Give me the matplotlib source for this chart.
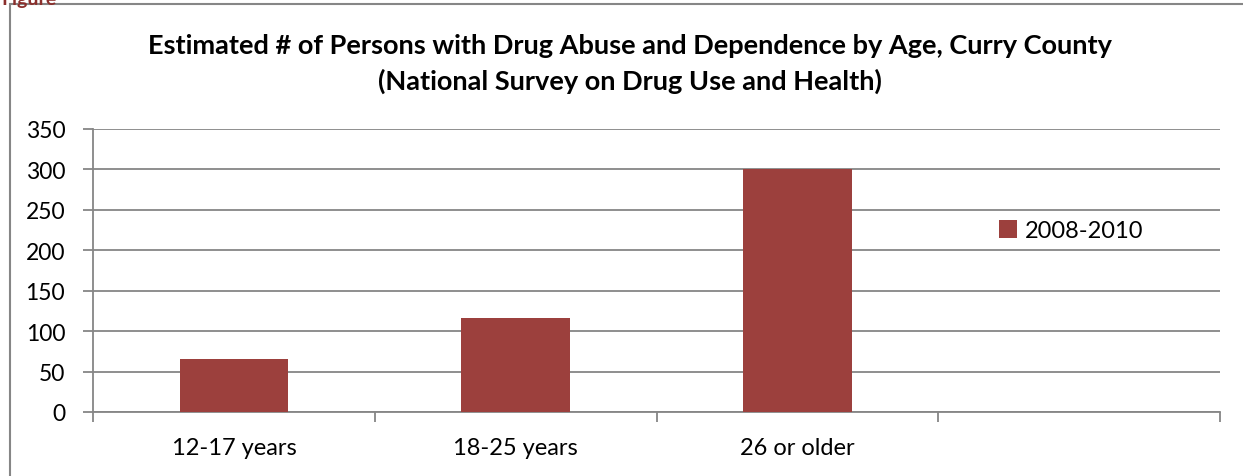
import numpy as np
import matplotlib
matplotlib.use('Agg')
from matplotlib import pyplot as plt
from matplotlib.patches import Rectangle

categories = ['12-17 years', '18-25 years', '26 or older', '']
values = [65, 116, 301, 0]
series_name = '2008-2010'
yticks = [0, 50, 100, 150, 200, 250, 300, 350]

plt.rcParams['font.family'] = ['Lato', 'DejaVu Sans']
grey = '#868686'
bar_color = '#9c403d'

fig = plt.figure(figsize=(12.43, 4.77), dpi=100)

# outer frame of the chart object
fig.patches.append(Rectangle((10 / 1243, -0.1), 1.2, 1.1 - 5 / 477, transform=fig.transFigure,
                             fill=False, edgecolor=grey, linewidth=1.5, zorder=0))
fig.text(0.001, 1.0, 'Figure', color='#8b2f2c', fontsize=14, fontweight='bold', va='center')

ax = fig.add_axes([93 / 1243, 64 / 477, 1127 / 1243, 283 / 477])
x = np.arange(len(categories))
ax.bar(x[:3], values[:3], width=0.385, color=bar_color, label=series_name, zorder=3)

ax.set_xlim(-0.5, len(categories) - 0.5)
ax.set_ylim(0, 350)
ax.set_yticks(yticks)
ax.tick_params(axis='y', length=7, color=grey, width=1.3, labelsize=16.5, pad=13)
ax.set_xticks(x[:3])
ax.set_xticklabels(categories[:3], fontsize=17)
ax.tick_params(axis='x', which='major', length=0, pad=18)
ax.set_xticks(np.arange(len(categories) + 1) - 0.5, minor=True)
ax.tick_params(axis='x', which='minor', length=7, color=grey, width=1.3)

ax.grid(axis='y', color=grey, linewidth=1.3, zorder=0)
for side in ['top', 'right']:
    ax.spines[side].set_visible(False)
for side in ['left', 'bottom']:
    ax.spines[side].set_color(grey)
    ax.spines[side].set_linewidth(1.3)

ax.legend(loc='center left', bbox_to_anchor=(0.785, 0.64), frameon=False, fontsize=17,
          handlelength=0.75, handleheight=0.75, handletextpad=0.35)

fig.text(0.507, 0.903, 'Estimated # of Persons with Drug Abuse and Dependence by Age, Curry County',
         ha='center', va='center', fontsize=19.5, fontweight='bold')
fig.text(0.507, 0.83, '(National Survey on Drug Use and Health)',
         ha='center', va='center', fontsize=19.5, fontweight='bold')

fig.savefig('out.png', dpi=100)
